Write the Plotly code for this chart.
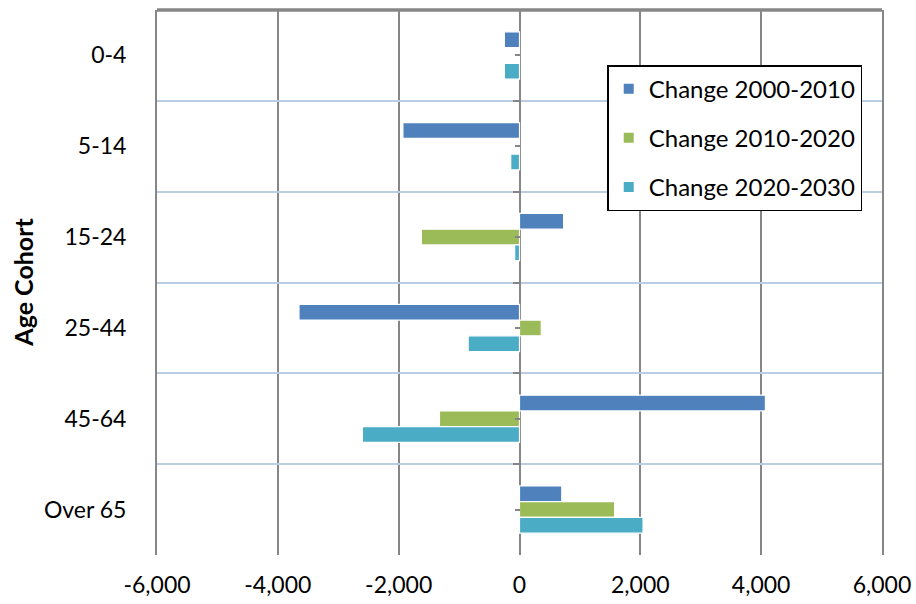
import plotly.graph_objects as go

# Age cohorts, top to bottom
cohorts = ["0-4", "5-14", "15-24", "25-44", "45-64", "Over 65"]

# Population change per decade by cohort
change_2000_2010 = [-250, -1930, 730, -3650, 4070, 700]
change_2010_2020 = [0, 0, -1625, 360, -1325, 1575]
change_2020_2030 = [-250, -145, -80, -850, -2600, 2045]

series_names = ["Change 2000-2010", "Change 2010-2020", "Change 2020-2030"]
series_colors = ["#4F81BD", "#9BBB59", "#4BACC6"]
series_values = [change_2000_2010, change_2010_2020, change_2020_2030]

x_ticks = [-6000, -4000, -2000, 0, 2000, 4000, 6000]
x_tick_labels = ["-6,000", "-4,000", "-2,000", "0", "2,000", "4,000", "6,000"]

y_title = "Age Cohort"

FONT = "Lato"
GRAY = "#868686"
LIGHT_BLUE = "#B9CDE5"

fig = go.Figure()

for name, color, vals in zip(series_names, series_colors, series_values):
    fig.add_trace(go.Bar(
        x=vals, y=cohorts, name=name, orientation="h",
        marker=dict(color=color, line=dict(color="white", width=1.2)),
        legendgroup=name,
    ))

# Invisible helpers that carry the tick marks on the zero axis
fig.add_trace(go.Scatter(x=[0] * len(cohorts), y=cohorts, yaxis="y2",
                         mode="markers", marker=dict(opacity=0),
                         showlegend=False, hoverinfo="skip"))
fig.add_trace(go.Scatter(x=[0] * len(cohorts), y=cohorts, yaxis="y3",
                         mode="markers", marker=dict(opacity=0),
                         showlegend=False, hoverinfo="skip"))

cat_axis = dict(type="category", categoryorder="array", categoryarray=cohorts,
                autorange="reversed", automargin=False)

fig.update_layout(
    width=916, height=604,
    margin=dict(l=157, r=34, t=10, b=49),
    paper_bgcolor="white", plot_bgcolor="white",
    font=dict(family=FONT, size=23, color="black"),
    barmode="group", bargap=0.48, bargroupgap=0.0,
    showlegend=True,
    legend=dict(
        x=0.621, y=0.899, xanchor="left", yanchor="top",
        bgcolor="white", bordercolor="black", borderwidth=1.5,
        font=dict(family=FONT, size=24, color="black"),
        tracegroupgap=15, itemsizing="constant", itemwidth=30,
    ),
    xaxis=dict(
        range=[-6000, 6000], tickvals=x_ticks, ticktext=x_tick_labels,
        showgrid=True, gridcolor=GRAY, gridwidth=2,
        zeroline=True, zerolinecolor=GRAY, zerolinewidth=2,
        showline=False, ticks="", ticklabelstandoff=14, automargin=False,
        tickfont=dict(family=FONT, size=23),
    ),
    yaxis=dict(
        **cat_axis,
        tickson="boundaries", showgrid=True, gridcolor=LIGHT_BLUE, gridwidth=2,
        ticks="", showline=True, linecolor=GRAY, linewidth=2, mirror=True,
        ticklabelstandoff=24,
        tickfont=dict(family=FONT, size=23),
    ),
    yaxis2=dict(
        **cat_axis, overlaying="y", matches="y", anchor="free", position=0.5,
        side="left", tickson="boundaries", ticks="outside", ticklen=7,
        tickwidth=2, tickcolor=GRAY, showticklabels=False,
        showgrid=False, zeroline=False, showline=False,
    ),
    yaxis3=dict(
        **cat_axis, overlaying="y", matches="y", anchor="free", position=0.5,
        side="left", tickson="labels", ticks="outside", ticklen=5,
        tickwidth=2, tickcolor=GRAY, showticklabels=False,
        showgrid=False, zeroline=False, showline=False,
    ),
    annotations=[dict(
        text=f"<b>{y_title}</b>", xref="paper", yref="paper",
        x=-0.186, y=0.5, xanchor="center", yanchor="middle",
        textangle=-90, showarrow=False,
        font=dict(family=FONT, size=25, color="black"),
    )],
    shapes=[dict(type="line", xref="x domain", yref="y domain",
                 x0=0, x1=1, y0=1, y1=1,
                 line=dict(color=GRAY, width=3.5), layer="above")],
)

fig.write_html("out.html")
